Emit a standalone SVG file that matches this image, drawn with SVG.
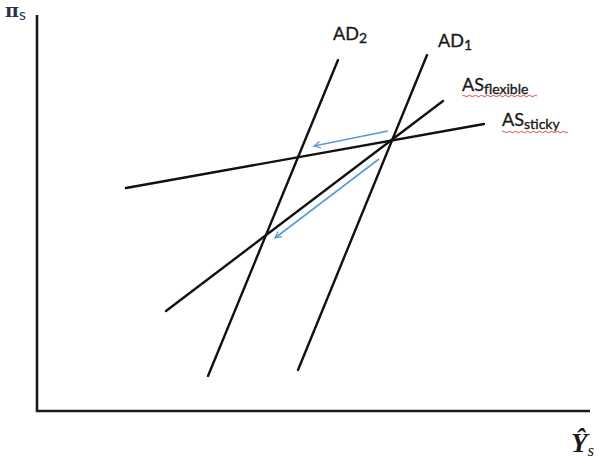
<svg xmlns="http://www.w3.org/2000/svg" width="604" height="460" viewBox="0 0 604 460">
<style>
.ax{stroke:#1a1a1a;stroke-width:2.6;fill:none}
.ln{stroke:#111;stroke-width:2.4;fill:none;stroke-linecap:round}
.arr{stroke:#5b9bd5;stroke-width:1.6;fill:none;marker-end:url(#ah)}
.lb{font-family:Lato,"Liberation Sans",sans-serif;fill:#1a1a1a;stroke:#1a1a1a;stroke-width:0.35}
.sq{stroke:#e03030;stroke-width:0.9;fill:none}
</style>
<defs>
<marker id="ah" viewBox="0 0 10 10" refX="9" refY="5" markerWidth="8" markerHeight="8" markerUnits="userSpaceOnUse" orient="auto">
<path d="M1,1 L9,5 L1,9" fill="none" stroke="#5b9bd5" stroke-width="1.6"/>
</marker>
</defs>
<g id="axes">
<path class="ax" d="M37,15 L37,411 L590,411"/>
<text x="5" y="17" font-family="'DejaVu Serif',serif" font-weight="bold" font-size="19" fill="#2a2f4f">π<tspan font-family="Lato,'Liberation Sans',sans-serif" font-weight="normal" font-size="16" dy="3">s</tspan></text>
<text x="571" y="452" font-family="'Liberation Serif',serif" font-style="italic" font-weight="bold" font-size="27" fill="#1a1a1a">Ŷ<tspan font-size="17" font-weight="normal" dy="4">s</tspan></text>
</g>
<g id="connectors">
<line id="AD2" class="ln" x1="208" y1="376" x2="338" y2="60"/>
<line id="AD1" class="ln" x1="298" y1="370" x2="427" y2="55"/>
<line id="ASflex" class="ln" x1="166" y1="311" x2="443" y2="101"/>
<line id="ASsticky" class="ln" x1="126" y1="188" x2="484" y2="124"/>
<line class="arr" x1="388" y1="131" x2="314" y2="146"/>
<line class="arr" x1="379" y1="159" x2="275" y2="238"/>
</g>
<g id="label-AD2"><text class="lb" x="333" y="40" font-size="18">AD<tspan font-size="14" dy="3">2</tspan></text></g>
<g id="label-AD1"><text class="lb" x="438" y="47" font-size="18">AD<tspan font-size="14" dy="3">1</tspan></text></g>
<g id="label-ASflexible">
<text class="lb" x="462" y="91" font-size="18">AS<tspan font-size="14" dy="3">flexible</tspan></text>
<path class="sq" d="M462,96 q1.5,-1.5 3,0 t3,0 t3,0 t3,0 t3,0 t3,0 t3,0 t3,0 t3,0 t3,0 t3,0 t3,0 t3,0 t3,0 t3,0 t3,0 t3,0 t3,0 t3,0 t3,0 t3,0 t3,0 t3,0 t3,0 t3,0"/>
</g>
<g id="label-ASsticky">
<text class="lb" x="502" y="126" font-size="18">AS<tspan font-size="14" dy="3">sticky</tspan></text>
<path class="sq" d="M502,132 q1.5,-1.5 3,0 t3,0 t3,0 t3,0 t3,0 t3,0 t3,0 t3,0 t3,0 t3,0 t3,0 t3,0 t3,0 t3,0 t3,0 t3,0 t3,0 t3,0 t3,0 t3,0 t3,0 t3,0"/>
</g>
</svg>
